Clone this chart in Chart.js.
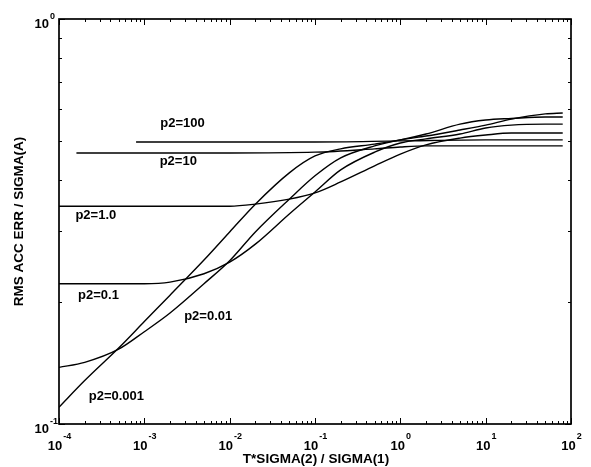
<!DOCTYPE html>
<html>
<head>
<meta charset="utf-8">
<script src="https://cdn.jsdelivr.net/npm/chart.js@4"></script>
<style>
  body { margin: 0; background: #fff; }
  canvas { display: block; }
</style>
</head>
<body>
<canvas id="myChart" width="591" height="467"></canvas>
<script>
// T*SIGMA(2)/SIGMA(1) values where the four low-p2 curves were read
const xGrid = [1e-4, 2e-4, 5e-4, 1e-3, 2e-3, 5e-3, 1e-2, 2e-2, 5e-2, 0.1, 0.2, 0.5, 1, 2, 5, 10, 20, 50, 80];

// RMS ACC ERR / SIGMA(A)
const p2_0001 = [0.110, 0.128, 0.154, 0.179, 0.208, 0.254, 0.298, 0.349, 0.417, 0.459, 0.478, 0.491, 0.503, 0.520, 0.550, 0.563, 0.568, 0.573, 0.573];
const p2_001  = [0.138, 0.142, 0.153, 0.169, 0.188, 0.222, 0.253, 0.298, 0.359, 0.410, 0.454, 0.486, 0.503, 0.514, 0.532, 0.547, 0.566, 0.583, 0.586];
const p2_01   = [0.222, 0.222, 0.222, 0.222, 0.224, 0.235, 0.251, 0.278, 0.330, 0.374, 0.424, 0.469, 0.494, 0.506, 0.520, 0.538, 0.547, 0.550, 0.550];
const p2_1    = [0.345, 0.345, 0.345, 0.345, 0.345, 0.345, 0.345, 0.349, 0.359, 0.372, 0.396, 0.434, 0.464, 0.489, 0.508, 0.517, 0.523, 0.523, 0.523];

// the two high-p2 curves are nearly flat and start further right
const x10   = [1.6e-4, 1e-3, 1e-2, 0.1, 0.5, 1, 2, 10, 80];
const p2_10 = [0.467, 0.467, 0.467, 0.469, 0.478, 0.483, 0.486, 0.486, 0.486];
const x100   = [8e-4, 1e-2, 0.1, 1, 10, 80];
const p2_100 = [0.497, 0.497, 0.497, 0.500, 0.503, 0.503];

// curve labels: text and the (x, y) data point they sit on
const curveLabels = ['p2=100', 'p2=10', 'p2=1.0', 'p2=0.1', 'p2=0.01', 'p2=0.001'];
const labelX = [2.8e-3, 2.5e-3, 2.7e-4, 2.9e-4, 5.6e-3, 4.7e-4];
const labelY = [0.553, 0.444, 0.328, 0.208, 0.184, 0.117];

const xDecades = [-4, -3, -2, -1, 0, 1, 2];
const yDecades = [-1, 0];

function pts(xs, ys) {
    return xs.map((v, i) => ({x: v, y: ys[i]}));
}

function curve(label, xs, ys) {
    return {
        label: label,
        data: pts(xs, ys),
        borderColor: '#000',
        borderWidth: 1.4,
        pointRadius: 0,
        fill: false,
        cubicInterpolationMode: 'monotone'
    };
}

const FONT = '"Liberation Sans", Arial, sans-serif';

// box, inward log ticks, powers-of-ten labels, titles and curve labels
const frame = {
    id: 'frame',
    afterDraw(chart) {
        const ctx = chart.ctx;
        const a = chart.chartArea;
        const xs = chart.scales.x, ys = chart.scales.y;
        ctx.save();
        ctx.strokeStyle = '#000';
        ctx.fillStyle = '#000';

        ctx.lineWidth = 1;
        ctx.beginPath();
        for (const d of xDecades) {
            for (let k = 1; k <= 9; k++) {
                if (d === 2 && k > 1) break;
                const px = Math.round(xs.getPixelForValue(k * Math.pow(10, d))) + 0.5;
                const len = k === 1 ? 6 : 3;
                ctx.moveTo(px, a.bottom); ctx.lineTo(px, a.bottom - len);
                ctx.moveTo(px, a.top); ctx.lineTo(px, a.top + len);
            }
        }
        for (const d of yDecades) {
            for (let k = 1; k <= 9; k++) {
                if (d === 0 && k > 1) break;
                const py = Math.round(ys.getPixelForValue(k * Math.pow(10, d))) + 0.5;
                const len = k === 1 ? 6 : 3;
                ctx.moveTo(a.left, py); ctx.lineTo(a.left + len, py);
                ctx.moveTo(a.right, py); ctx.lineTo(a.right - len, py);
            }
        }
        ctx.stroke();

        ctx.lineWidth = 1.7;
        ctx.strokeRect(a.left, a.top, a.right - a.left, a.bottom - a.top);

        // x tick labels
        ctx.textBaseline = 'alphabetic';
        for (const d of xDecades) {
            const px = xs.getPixelForValue(Math.pow(10, d));
            ctx.font = 'bold 13px ' + FONT;
            const w1 = ctx.measureText('10').width;
            ctx.font = 'bold 9px ' + FONT;
            const sup = String(d);
            const w2 = ctx.measureText(sup).width;
            const x0 = px - (w1 + w2) / 2;
            ctx.textAlign = 'left';
            ctx.font = 'bold 13px ' + FONT;
            ctx.fillText('10', x0, a.bottom + 26);
            ctx.font = 'bold 9px ' + FONT;
            ctx.fillText(sup, x0 + w1 + 1, a.bottom + 15);
        }
        // y tick labels
        for (const d of yDecades) {
            const py = ys.getPixelForValue(Math.pow(10, d));
            ctx.font = 'bold 13px ' + FONT;
            ctx.textAlign = 'right';
            ctx.fillText('10', a.left - 10, py + 9);
            ctx.font = 'bold 9px ' + FONT;
            ctx.textAlign = 'left';
            ctx.fillText(String(d), a.left - 9, py);
        }

        // axis titles
        ctx.font = 'bold 13.5px ' + FONT;
        ctx.textAlign = 'center';
        ctx.textBaseline = 'middle';
        ctx.fillText('T*SIGMA(2) / SIGMA(1)', (a.left + a.right) / 2 + 1, a.bottom + 35);
        ctx.save();
        ctx.translate(19, (a.top + a.bottom) / 2);
        ctx.rotate(-Math.PI / 2);
        ctx.fillText('RMS ACC ERR / SIGMA(A)', 0, 0);
        ctx.restore();

        // curve labels
        ctx.font = 'bold 13px ' + FONT;
        for (let i = 0; i < curveLabels.length; i++) {
            ctx.fillText(curveLabels[i], xs.getPixelForValue(labelX[i]), ys.getPixelForValue(labelY[i]));
        }
        ctx.restore();
    }
};

new Chart(document.getElementById('myChart'), {
    type: 'line',
    data: {
        datasets: [
            curve('p2=100', x100, p2_100),
            curve('p2=10', x10, p2_10),
            curve('p2=1.0', xGrid, p2_1),
            curve('p2=0.1', xGrid, p2_01),
            curve('p2=0.01', xGrid, p2_001),
            curve('p2=0.001', xGrid, p2_0001)
        ]
    },
    options: {
        responsive: false,
        animation: false,
        layout: { padding: { left: 59, right: 20, top: 19, bottom: 43 } },
        plugins: { legend: { display: false }, tooltip: { enabled: false } },
        scales: {
            x: { type: 'logarithmic', min: 1e-4, max: 100, display: false },
            y: { type: 'logarithmic', min: 0.1, max: 1, display: false }
        }
    },
    plugins: [frame]
});
</script>
</body>
</html>
